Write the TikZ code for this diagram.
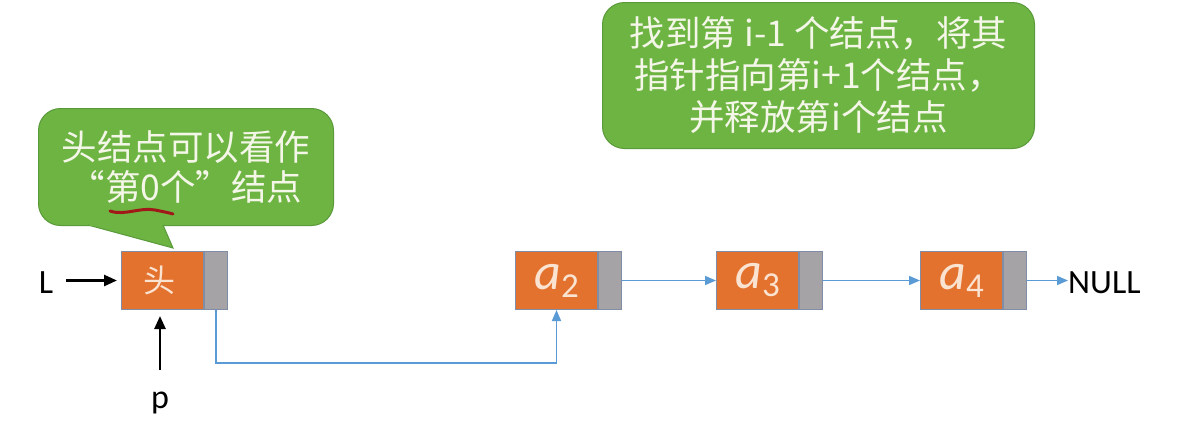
\documentclass[tikz,border=0pt]{standalone}
\usepackage{fontspec}
\setmainfont{Carlito}
\newfontfamily\cjk{Noto Sans CJK SC}
\usetikzlibrary{arrows.meta}
\definecolor{nodeorange}{HTML}{E3722E}
\definecolor{ptrgray}{HTML}{A5A3A5}
\definecolor{edgeblue}{HTML}{7F8DA6}
\definecolor{linkblue}{HTML}{5B9BD5}
\definecolor{callgreen}{HTML}{6DB443}
\definecolor{callborder}{HTML}{5A9A3A}
\definecolor{calltext}{HTML}{F4F6E8}
\definecolor{nodetext}{HTML}{FBE3D2}
\definecolor{inkred}{HTML}{A01818}
\newcommand{\elem}[1]{{\itshape a}\raisebox{-8pt}{\fontsize{35}{35}\selectfont #1}}
\tikzset{
  obox/.style={rectangle, draw=edgeblue, line width=1pt, fill=nodeorange, minimum width=82pt, minimum height=58pt, inner sep=0pt, anchor=north west, text=nodetext},
  gbox/.style={rectangle, draw=edgeblue, line width=1pt, fill=ptrgray, minimum width=23pt, minimum height=58pt, inner sep=0pt, anchor=north west},
  blink/.style={draw=linkblue, line width=1.6pt, -{Triangle[length=11pt,width=9pt]}},
  karrow/.style={draw=black, line width=2.6pt, -{Triangle[length=13pt,width=11pt]}},
  callbox/.style={rectangle, rounded corners=22pt, fill=callgreen, draw=callborder, line width=1pt, inner sep=0pt, anchor=north west, text=calltext, align=center, font=\cjk\fontsize{35.5}{42}\selectfont},
  lbl/.style={font=\fontsize{34}{34}\selectfont, inner sep=0pt},
  alabel/.style={font=\fontsize{52}{52}\selectfont}
}
\begin{document}
\begin{tikzpicture}[x=1pt,y=-1pt]
\useasboundingbox[fill=white] (0,0) rectangle (1180,421);

% callout 1
\node[callbox, minimum width=295pt, minimum height=117pt, font=\cjk\fontsize{35.5}{40}\selectfont] (c1) at (38,108) {头结点可以看作\\“第0个”结点};
\filldraw[fill=callgreen, draw=callborder, line width=1pt] (88,225) -- (173,248) -- (163,225);
\fill[callgreen] (89.5,222) rectangle (162,226.3);
\draw[inkred, line width=3pt, line cap=round] (110,211) .. controls (125,216) and (140,207) .. (155,210) .. controls (165,212) and (170,213) .. (173,214);

% callout 2
\node[callbox, minimum width=432pt, minimum height=146pt] (c2) at (602,2) {找到第 i-1 个结点，将其\\指针指向第i+1个结点，\\并释放第i个结点};

% nodes
\node[obox, font=\cjk\fontsize{32}{32}\selectfont] (h) at (121,251) {\hspace*{-6pt}头};
\node[gbox] (hp) at (h.north east) {};
\node[obox, alabel] (a2) at (515,251) {\elem{2}};
\node[gbox] (a2p) at (a2.north east) {};
\node[obox, alabel] (a3) at (716,251) {\elem{3}};
\node[gbox] (a3p) at (a3.north east) {};
\node[obox, alabel] (a4) at (920,251) {\elem{4}};
\node[gbox] (a4p) at (a4.north east) {};

\node[lbl] (L) at (46,283) {L};
\node[lbl] (p) at (160,403) {p};
\node[lbl, anchor=west] (null) at (1068,283) {NULL};

\draw[karrow] ([xshift=13pt]L.east |- h.west) -- ([xshift=-4pt]h.west);
\draw[karrow] (p.north |- 0,370) -- (p.north |- 0,316);

\draw[blink] (hp.south) -- ++(0,53) -| (a2.south);
\draw[blink] (a2p.east) -- (a3.west);
\draw[blink] (a3p.east) -- (a4.west);
\draw[blink] (a4p.east) -- (a4p.east -| null.west);
\end{tikzpicture}
\end{document}
